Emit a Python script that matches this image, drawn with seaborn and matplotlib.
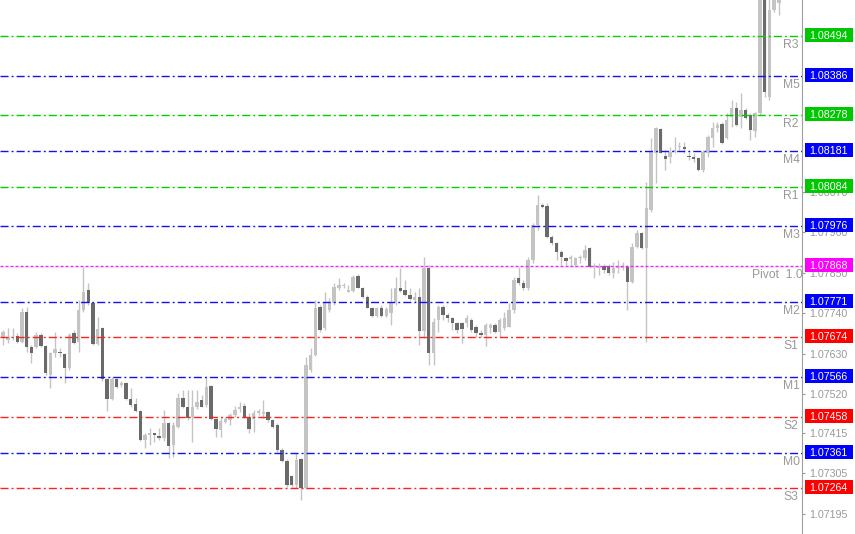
import matplotlib
matplotlib.use("Agg")
import matplotlib.pyplot as plt
import matplotlib.transforms as mtransforms
from matplotlib.patches import Rectangle
import numpy as np
import pandas as pd
import seaborn as sns

opens = [1.07676, 1.07672, 1.07667, 1.07672, 1.07678, 1.07663, 1.07743, 1.07647, 1.07649, 1.07681,
         1.07651, 1.07572, 1.07631, 1.07635, 1.07629, 1.07590, 1.07685, 1.07663, 1.07749, 1.07803,
         1.07769, 1.07656, 1.07699, 1.07560, 1.07506, 1.07560, 1.07545, 1.07549, 1.07506, 1.07493,
         1.07475, 1.07395, 1.07409, 1.07410, 1.07407, 1.07401, 1.07442, 1.07382, 1.07431, 1.07509,
         1.07484, 1.07459, 1.07484, 1.07504, 1.07490, 1.07542, 1.07452, 1.07422, 1.07445, 1.07450,
         1.07463, 1.07479, 1.07488, 1.07459, 1.07452, 1.07469, 1.07466, 1.07472, 1.07450, 1.07436,
         1.07368, 1.07339, 1.07297, 1.07273, 1.07343, 1.07265, 1.07586, 1.07626, 1.07758, 1.07699,
         1.07749, 1.07767, 1.07808, 1.07814, 1.07799, 1.07800, 1.07842, 1.07809, 1.07785, 1.07755,
         1.07733, 1.07753, 1.07733, 1.07740, 1.07771, 1.07808, 1.07803, 1.07790, 1.07776, 1.07785,
         1.07692, 1.07864, 1.07631, 1.07722, 1.07758, 1.07735, 1.07728, 1.07713, 1.07713, 1.07713,
         1.07722, 1.07702, 1.07687, 1.07681, 1.07699, 1.07708, 1.07690, 1.07699, 1.07703, 1.07749,
         1.07835, 1.07821, 1.07808, 1.07885, 1.07980, 1.08034, 1.08032, 1.07948, 1.07930, 1.07907,
         1.07889, 1.07887, 1.07871, 1.07889, 1.07889, 1.07917, 1.07865, 1.07862, 1.07869, 1.07869,
         1.07849, 1.07862, 1.07862, 1.07867, 1.07826, 1.07921, 1.07957, 1.07917, 1.08021, 1.08175,
         1.08240, 1.08168, 1.08166, 1.08179, 1.08191, 1.08193, 1.08168, 1.08164, 1.08161, 1.08130,
         1.08177, 1.08216, 1.08243, 1.08255, 1.08216, 1.08275, 1.08297, 1.08275, 1.08293, 1.08279,
         1.08237, 1.08284, 1.08640, 1.08329, 1.08565, 1.08584]

highs = [1.07749, 1.07694, 1.07699, 1.07699, 1.07685, 1.07753, 1.07758, 1.07654, 1.07690, 1.07685,
         1.07654, 1.07635, 1.07690, 1.07645, 1.07633, 1.07687, 1.07694, 1.07776, 1.07867, 1.07821,
         1.07771, 1.07731, 1.07703, 1.07563, 1.07566, 1.07563, 1.07557, 1.07554, 1.07536, 1.07509,
         1.07477, 1.07413, 1.07427, 1.07414, 1.07427, 1.07477, 1.07445, 1.07445, 1.07522, 1.07531,
         1.07531, 1.07531, 1.07531, 1.07518, 1.07567, 1.07545, 1.07454, 1.07454, 1.07459, 1.07468,
         1.07488, 1.07499, 1.07495, 1.07468, 1.07477, 1.07479, 1.07504, 1.07475, 1.07452, 1.07441,
         1.07373, 1.07343, 1.07300, 1.07359, 1.07345, 1.07621, 1.07645, 1.07776, 1.07762, 1.07799,
         1.07781, 1.07821, 1.07835, 1.07821, 1.07817, 1.07844, 1.07846, 1.07812, 1.07790, 1.07758,
         1.07758, 1.07762, 1.07758, 1.07808, 1.07839, 1.07862, 1.07830, 1.07808, 1.07799, 1.07808,
         1.07894, 1.07871, 1.07726, 1.07762, 1.07762, 1.07740, 1.07731, 1.07717, 1.07717, 1.07735,
         1.07726, 1.07708, 1.07694, 1.07713, 1.07713, 1.07713, 1.07726, 1.07742, 1.07767, 1.07839,
         1.07867, 1.07830, 1.07894, 1.07985, 1.08062, 1.08039, 1.08039, 1.07953, 1.07935, 1.07912,
         1.07894, 1.07898, 1.07894, 1.07898, 1.07926, 1.07921, 1.07876, 1.07877, 1.07874, 1.07874,
         1.07880, 1.07885, 1.07880, 1.07871, 1.07930, 1.07966, 1.07962, 1.08098, 1.08216, 1.08247,
         1.08243, 1.08184, 1.08193, 1.08220, 1.08207, 1.08207, 1.08179, 1.08175, 1.08166, 1.08184,
         1.08225, 1.08261, 1.08261, 1.08261, 1.08284, 1.08320, 1.08315, 1.08338, 1.08297, 1.08284,
         1.08288, 1.08655, 1.08660, 1.08600, 1.08610, 1.08615]

lows = [1.07667, 1.07654, 1.07658, 1.07667, 1.07658, 1.07658, 1.07635, 1.07604, 1.07645, 1.07647,
        1.07572, 1.07536, 1.07622, 1.07622, 1.07549, 1.07586, 1.07656, 1.07635, 1.07744, 1.07762,
        1.07654, 1.07654, 1.07557, 1.07475, 1.07504, 1.07536, 1.07540, 1.07504, 1.07486, 1.07472,
        1.07392, 1.07373, 1.07382, 1.07390, 1.07395, 1.07392, 1.07346, 1.07350, 1.07427, 1.07481,
        1.07450, 1.07391, 1.07480, 1.07484, 1.07486, 1.07450, 1.07404, 1.07404, 1.07441, 1.07436,
        1.07459, 1.07472, 1.07454, 1.07413, 1.07418, 1.07463, 1.07454, 1.07445, 1.07427, 1.07363,
        1.07336, 1.07268, 1.07267, 1.07264, 1.07232, 1.07262, 1.07580, 1.07624, 1.07690, 1.07694,
        1.07743, 1.07762, 1.07803, 1.07808, 1.07797, 1.07799, 1.07808, 1.07782, 1.07753, 1.07731,
        1.07731, 1.07731, 1.07731, 1.07708, 1.07762, 1.07799, 1.07788, 1.07776, 1.07771, 1.07654,
        1.07672, 1.07599, 1.07599, 1.07690, 1.07722, 1.07717, 1.07694, 1.07685, 1.07658, 1.07703,
        1.07690, 1.07676, 1.07676, 1.07651, 1.07685, 1.07685, 1.07676, 1.07694, 1.07702, 1.07740,
        1.07817, 1.07803, 1.07803, 1.07876, 1.07966, 1.08025, 1.07944, 1.07926, 1.07885, 1.07871,
        1.07871, 1.07867, 1.07867, 1.07876, 1.07885, 1.07862, 1.07835, 1.07844, 1.07849, 1.07844,
        1.07835, 1.07849, 1.07858, 1.07749, 1.07821, 1.07917, 1.07914, 1.07662, 1.08016, 1.08094,
        1.08175, 1.08130, 1.08148, 1.08175, 1.08184, 1.08175, 1.08157, 1.08152, 1.08128, 1.08125,
        1.08166, 1.08193, 1.08234, 1.08200, 1.08213, 1.08247, 1.08249, 1.08243, 1.08268, 1.08211,
        1.08220, 1.08279, 1.08328, 1.08320, 1.08559, 1.08551]

closes = [1.07740, 1.07690, 1.07676, 1.07673, 1.07663, 1.07744, 1.07647, 1.07631, 1.07681, 1.07651,
          1.07577, 1.07631, 1.07642, 1.07631, 1.07590, 1.07681, 1.07660, 1.07749, 1.07799, 1.07769,
          1.07656, 1.07696, 1.07560, 1.07506, 1.07560, 1.07540, 1.07549, 1.07506, 1.07490, 1.07475,
          1.07395, 1.07409, 1.07410, 1.07409, 1.07400, 1.07441, 1.07379, 1.07436, 1.07509, 1.07484,
          1.07454, 1.07484, 1.07499, 1.07486, 1.07540, 1.07452, 1.07424, 1.07448, 1.07452, 1.07463,
          1.07477, 1.07484, 1.07459, 1.07424, 1.07469, 1.07470, 1.07469, 1.07450, 1.07431, 1.07368,
          1.07339, 1.07273, 1.07273, 1.07341, 1.07265, 1.07599, 1.07626, 1.07754, 1.07694, 1.07767,
          1.07767, 1.07812, 1.07817, 1.07815, 1.07803, 1.07839, 1.07809, 1.07785, 1.07755, 1.07733,
          1.07753, 1.07733, 1.07752, 1.07767, 1.07808, 1.07800, 1.07790, 1.07778, 1.07785, 1.07692,
          1.07864, 1.07631, 1.07717, 1.07758, 1.07735, 1.07726, 1.07713, 1.07694, 1.07697, 1.07726,
          1.07694, 1.07687, 1.07681, 1.07708, 1.07708, 1.07690, 1.07722, 1.07726, 1.07749, 1.07830,
          1.07821, 1.07808, 1.07885, 1.07980, 1.08034, 1.08030, 1.07948, 1.07930, 1.07907, 1.07894,
          1.07883, 1.07894, 1.07889, 1.07894, 1.07912, 1.07867, 1.07869, 1.07869, 1.07858, 1.07849,
          1.07862, 1.07869, 1.07867, 1.07826, 1.07921, 1.07957, 1.07917, 1.08025, 1.08179, 1.08243,
          1.08177, 1.08159, 1.08179, 1.08184, 1.08193, 1.08186, 1.08164, 1.08159, 1.08130, 1.08179,
          1.08219, 1.08243, 1.08252, 1.08202, 1.08266, 1.08297, 1.08252, 1.08293, 1.08270, 1.08238,
          1.08284, 1.08640, 1.08343, 1.08565, 1.08597, 1.08600]

level_names = ["R3", "M5", "R2", "M4", "R1", "M3", "Pivot  1.07868", "M2", "S1", "M1", "S2", "M0", "S3"]
level_values = [1.08494, 1.08386, 1.08278, 1.08181, 1.08084, 1.07976, 1.07868,
                1.07771, 1.07674, 1.07566, 1.07458, 1.07361, 1.07264]
level_kinds = ["R", "M", "R", "M", "R", "M", "P", "M", "S", "M", "S", "M", "S"]
tick_values = [1.07195, 1.07305, 1.07415, 1.07520, 1.07630, 1.07740, 1.07850, 1.07960, 1.08070]

sns.set_theme(style="white")
plt.rcParams["font.family"] = ["Liberation Sans", "DejaVu Sans"]
plt.rcParams["lines.scale_dashes"] = False

W, H = 855, 534
AXW = 802
fig = plt.figure(figsize=(W / 100, H / 100), dpi=100)
fig.patch.set_facecolor("white")
ax = fig.add_axes([0, 0, AXW / W, 1])
ax.set_facecolor("white")

df = pd.DataFrame({"open": opens, "high": highs, "low": lows, "close": closes})
df["idx"] = np.arange(len(df))
df["bull"] = df["close"] >= df["open"]

ymin, ymax = 1.071395, 1.08592
ax.set_xlim(0.35, 169.9)
ax.set_ylim(ymin, ymax)
ppu = (ymax - ymin) / H

wick_color = "#c4c4c4"
bull_color = "#c4c4c4"
bear_color = "#6a6a6a"

ax.vlines(df["idx"], df["low"], df["high"], color=wick_color, lw=1.0, zorder=2)
body_bottom = np.minimum(df["open"], df["close"])
body_h = np.maximum(np.abs(df["close"] - df["open"]), 1.5 * ppu)
body_colors = np.where(df["bull"], bull_color, bear_color)
ax.bar(df["idx"], body_h, bottom=body_bottom, width=0.72, color=body_colors,
       linewidth=0, zorder=3)

line_colors = {"R": "#00d000", "M": "#1010ff", "S": "#ff2020", "P": "#ff20ff"}
box_colors = {"R": "#00c800", "M": "#0000ff", "S": "#ff0000", "P": "#ff00ff"}
blend = mtransforms.blended_transform_factory(ax.transAxes, ax.transData)

for name, val, kind in zip(level_names, level_values, level_kinds):
    dashes = (2.2, 1.4) if kind == "P" else (5.8, 2.2, 1.4, 2.2)
    ax.axhline(val, color=line_colors[kind], lw=1.0, dashes=dashes, zorder=4)
    xl = 752 / AXW if kind == "P" else 783 / AXW
    ax.annotate(name, xy=(xl, val), xycoords=blend, xytext=(0, -3),
                textcoords="offset pixels", ha="left", va="top",
                fontsize=8.7, color="#999999", annotation_clip=False,
                clip_on=True, zorder=5)
    rect = Rectangle((804.5 / AXW, val - 6 * ppu), 48 / AXW, 14 * ppu,
                     transform=blend, facecolor=box_colors[kind],
                     edgecolor="none", clip_on=False, zorder=6)
    ax.add_patch(rect)
    ax.text(828.5 / AXW, val + 1 * ppu, f"{val:.5f}", transform=blend,
            ha="center", va="center_baseline", color="white", fontsize=7.7,
            clip_on=False, zorder=7)

ax.yaxis.tick_right()
ax.set_yticks(tick_values)
ax.set_yticklabels([f"{t:.5f}" for t in tick_values])
ax.set_xticks([])
ax.tick_params(axis="y", direction="out", length=2.5, width=0.8, color="#999999",
               labelcolor="#999999", labelsize=7.7, pad=3, right=True, left=False)
for side in ["top", "bottom", "left"]:
    ax.spines[side].set_visible(False)
ax.spines["right"].set_color("#a0a0a0")
ax.spines["right"].set_linewidth(0.8)

fig.savefig("out.png", dpi=100, facecolor="white")
